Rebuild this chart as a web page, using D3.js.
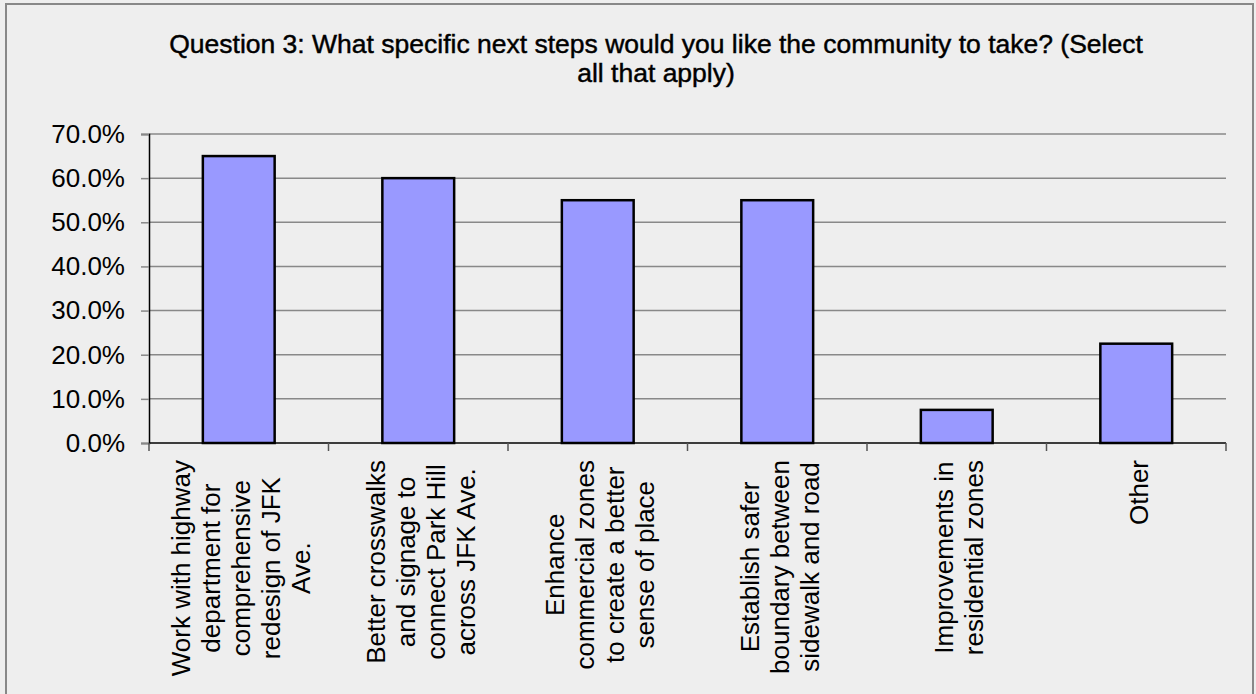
<!DOCTYPE html>
<html>
<head>
<meta charset="utf-8">
<script src="https://cdn.jsdelivr.net/npm/d3@7"></script>
<style>
  html, body { margin: 0; padding: 0; background: #eeeeee; overflow: hidden; }
  text { font-family: "Liberation Sans", Arial, sans-serif; fill: #000; }
</style>
</head>
<body>
<svg id="chart"></svg>
<script>
// chart data
const titleLines = [
  "Question 3: What specific next steps would you like the community to take? (Select",
  "all that apply)"
];
const categories = [
  ["Work with highway", "department for", "comprehensive", "redesign of JFK", "Ave."],
  ["Better crosswalks", "and signage to", "connect Park Hill", "across JFK Ave."],
  ["Enhance", "commercial zones", "to create a better", "sense of place"],
  ["Establish safer", "boundary between", "sidewalk and road"],
  ["Improvements in", "residential zones"],
  ["Other"]
];
const values = [0.65, 0.60, 0.55, 0.55, 0.075, 0.225];
const yTicks = [0, 0.1, 0.2, 0.3, 0.4, 0.5, 0.6, 0.7];

const width = 1256, height = 694;
const margin = { top: 134, right: 30, bottom: 251, left: 149 };

const svg = d3.select("#chart")
  .attr("width", width)
  .attr("height", height);

// background + outer frame
svg.append("rect")
  .attr("x", 0).attr("y", 0)
  .attr("width", width).attr("height", height)
  .attr("fill", "#eeeeee");

svg.append("rect")
  .attr("x", 6).attr("y", 4)
  .attr("width", 1247).attr("height", 720)
  .attr("fill", "none")
  .attr("stroke", "#888")
  .attr("stroke-width", 2);

// title
svg.append("text")
  .attr("x", 656)
  .attr("y", 53)
  .attr("text-anchor", "middle")
  .style("font-size", "26.5px")
  .style("stroke", "#000")
  .style("stroke-width", "0.45px")
  .selectAll("tspan")
  .data(titleLines)
  .enter()
  .append("tspan")
  .attr("x", 656)
  .attr("dy", (d, i) => i === 0 ? 0 : 29)
  .text(d => d);

// scales
const x = d3.scaleBand()
  .domain(d3.range(categories.length))
  .range([margin.left, 1226])
  .padding(0);

const y = d3.scaleLinear()
  .domain([0, 0.7])
  .range([443, margin.top]);

// gridlines
svg.append("g")
  .selectAll("line")
  .data(yTicks.slice(1))
  .enter()
  .append("line")
  .attr("x1", margin.left)
  .attr("x2", 1226)
  .attr("y1", d => y(d))
  .attr("y2", d => y(d))
  .attr("stroke", "#888")
  .attr("stroke-width", 1.5);

// y axis
const yAxis = svg.append("g")
  .attr("transform", `translate(${margin.left},0)`)
  .call(d3.axisLeft(y).tickValues(yTicks).tickFormat(d3.format(".1%")).tickSize(8).tickPadding(16));
yAxis.select(".domain").attr("stroke", "#000").attr("stroke-width", 1.5);
yAxis.selectAll(".tick line").attr("stroke", "#888").attr("stroke-width", 1.5);
yAxis.selectAll(".tick text")
  .style("font-size", "26px")
  .style("font-family", "'Liberation Sans', Arial, sans-serif")
  .attr("fill", "#000");

// bars
const barW = x.bandwidth() * 0.4;
svg.append("g")
  .selectAll("rect")
  .data(values)
  .enter()
  .append("rect")
  .attr("x", (d, i) => x(i) + x.bandwidth() / 2 - barW / 2)
  .attr("y", d => y(d))
  .attr("width", barW)
  .attr("height", d => y(0) - y(d))
  .attr("fill", "#9999ff")
  .attr("stroke", "#000")
  .attr("stroke-width", 2.5);

// x axis with boundary ticks
const xg = svg.append("g");
xg.append("line")
  .attr("x1", margin.left).attr("x2", 1226)
  .attr("y1", y(0)).attr("y2", y(0))
  .attr("stroke", "#000").attr("stroke-width", 1.5);
xg.selectAll("line.tick")
  .data(d3.range(categories.length + 1))
  .enter()
  .append("line")
  .attr("class", "tick")
  .attr("x1", i => margin.left + i * x.step())
  .attr("x2", i => margin.left + i * x.step())
  .attr("y1", y(0))
  .attr("y2", y(0) + 8)
  .attr("stroke", "#555")
  .attr("stroke-width", 1.5);

// rotated category labels, block centred, longest line starts below the axis
const lineH = 30, fs = 26;
categories.forEach((lines, i) => {
  const g = svg.append("g")
    .attr("transform", `translate(${x(i) + x.bandwidth() / 2 + 2},460) rotate(-90)`);
  const t = g.selectAll("text")
    .data(lines)
    .enter()
    .append("text")
    .attr("text-anchor", "middle")
    .style("font-size", fs + "px")
    .attr("y", (d, j) => (j - (lines.length - 1) / 2) * lineH + fs * 0.36)
    .text(d => d);
  let maxW = 0;
  t.each(function() { maxW = Math.max(maxW, this.getComputedTextLength()); });
  t.attr("x", -maxW / 2);
});
</script>
</body>
</html>
